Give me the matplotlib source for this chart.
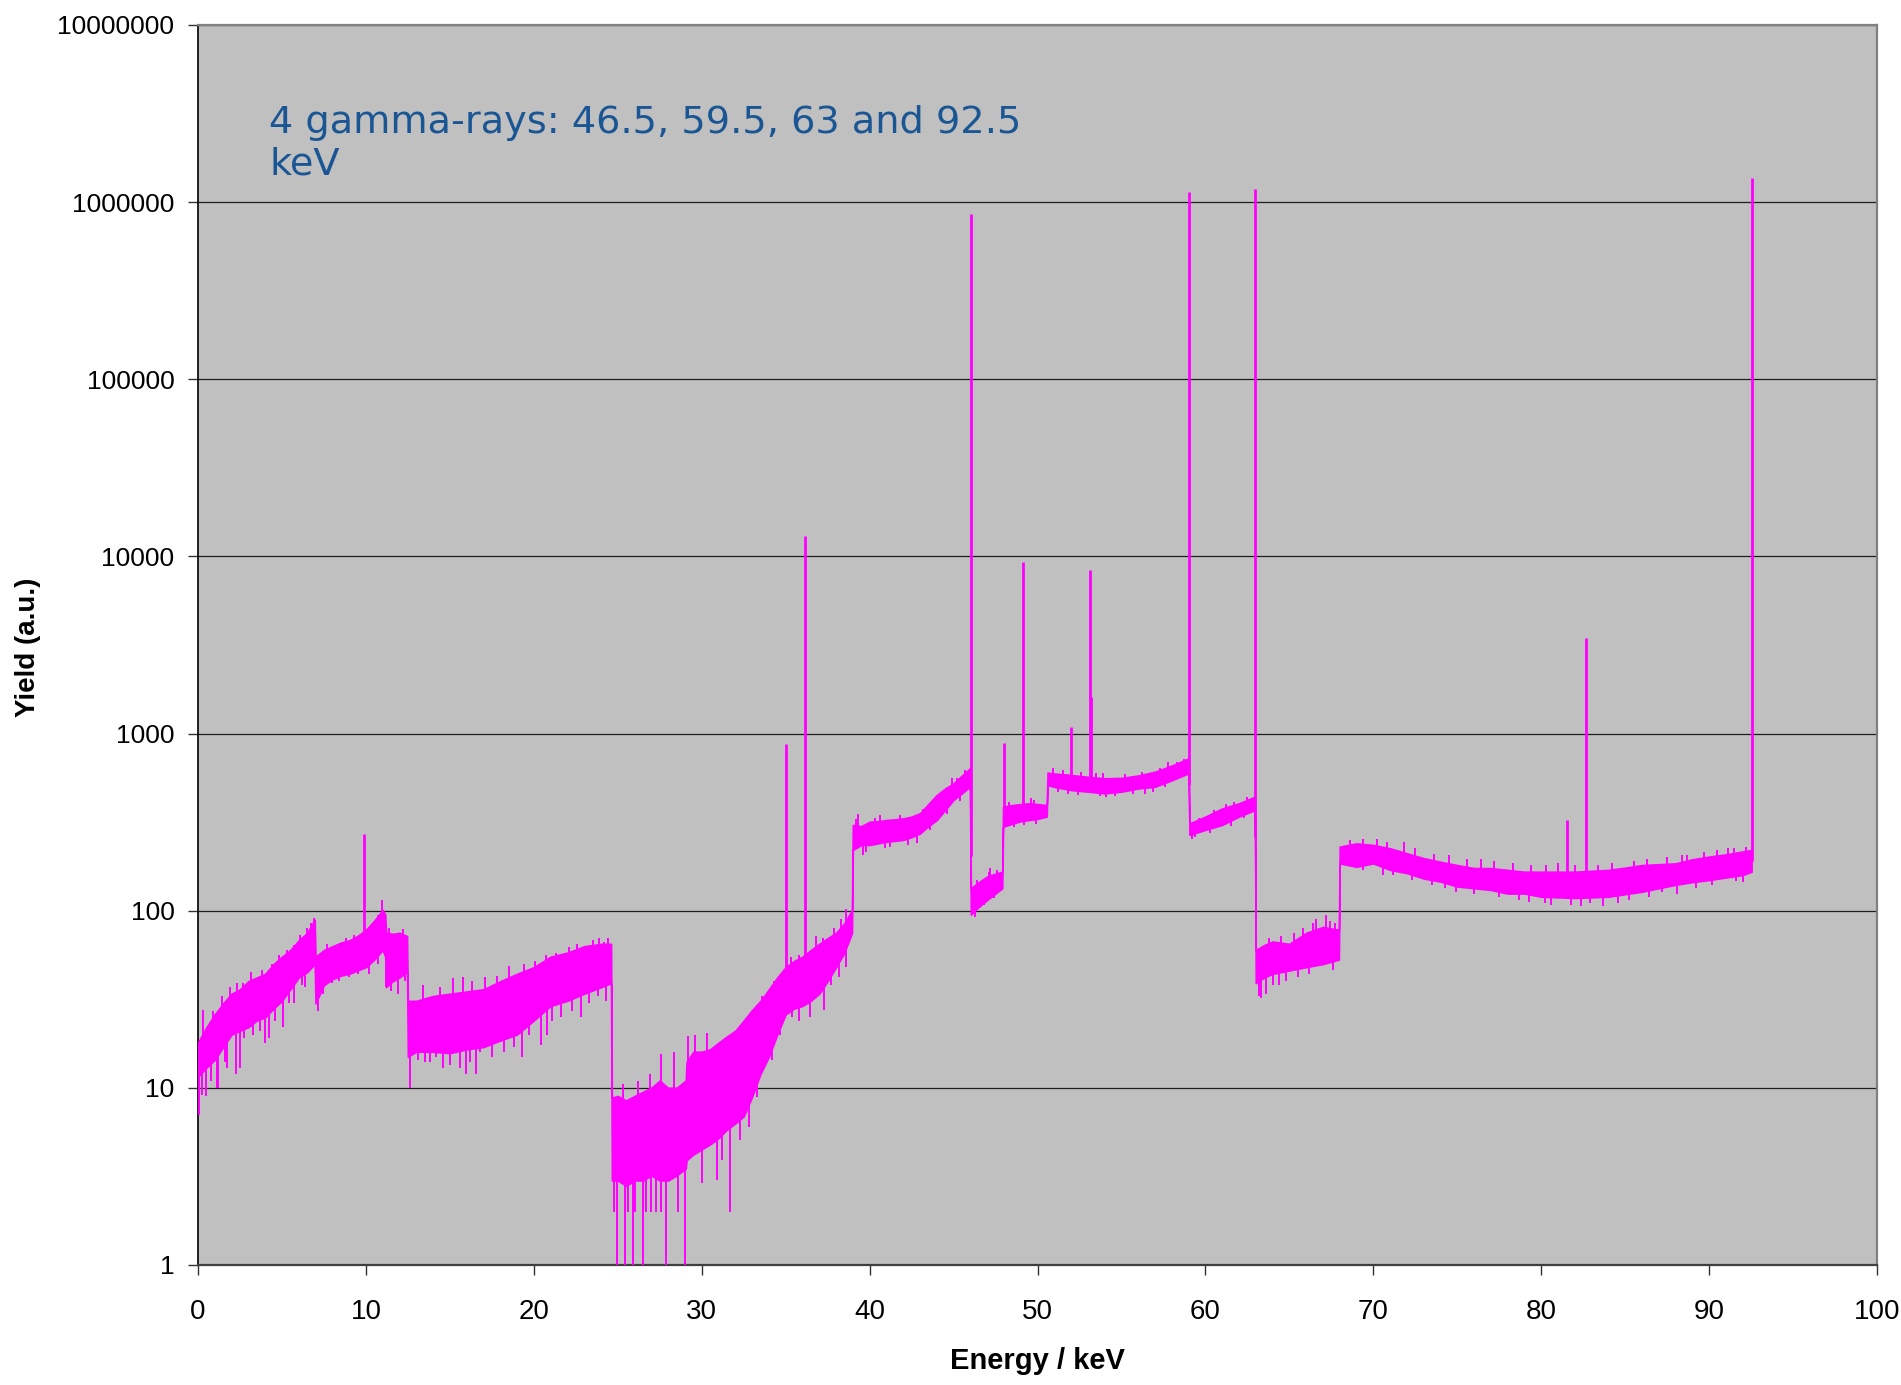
import numpy as np
import matplotlib
matplotlib.use("Agg")
import matplotlib.pyplot as plt
from matplotlib.ticker import FixedLocator, FixedFormatter

# ---- spectrum envelope (energy in keV, yield in a.u.) ----
ENERGY_KEV = [
    0.0, 0.5, 1.0, 1.5, 2.0, 2.5, 3.0, 3.5, 4.0, 4.5, 5.0, 5.5, 6.0, 6.5, 6.95,
    7.0, 7.5, 8.0, 8.5, 9.0, 9.5, 10.0, 10.5, 11.0, 11.15,
    11.2, 11.6, 12.0, 12.45,
    12.5, 13, 14, 15, 16, 17, 18, 19, 20, 21, 22, 23, 24, 24.6,
    24.65, 25, 25.5, 26, 26.5, 27, 27.5, 28, 28.5, 29.05,
    29.1, 29.5, 30, 30.5, 31, 31.5, 32, 32.5, 33, 33.5, 34, 34.5, 35, 35.5,
    36, 36.5, 37, 37.5, 38, 38.5, 38.95,
    39.0, 39.5, 40, 40.5, 41, 41.5, 42, 42.5, 43, 43.5, 44, 44.5, 45, 45.5, 45.98,
    46.03, 46.5, 47, 47.5, 47.9,
    47.95, 48.5, 49, 49.5, 50, 50.55,
    50.6, 51, 52, 53, 54, 55, 56, 57, 58, 59.0,
    59.05, 60, 61, 62, 62.95,
    63.0, 63.5, 64, 65, 66, 67, 67.95,
    68.0, 69, 70, 71, 72, 73, 74, 75, 76, 77, 78, 79, 80, 81, 82, 83, 84,
    85, 86, 87, 88, 89, 90, 91, 92, 92.53,
]
BAND_HIGH = [
    18, 22, 26, 30, 34, 36, 40, 42, 44, 50, 55, 60, 68, 75, 89,
    55, 60, 63, 66, 68, 72, 78, 88, 101, 95,
    75, 74, 75, 72,
    31, 31, 33, 34, 35, 36, 40, 44, 48, 55, 58, 63, 65, 65,
    8.8, 9, 8.5, 9, 9.5, 10, 11, 10, 10, 11,
    14, 16, 16, 16.5, 18, 19.5, 21, 24, 27.5, 31, 36, 42, 48, 52,
    55, 60, 65, 70, 75, 85, 101,
    305, 300, 318, 320, 325, 328, 332, 340, 355, 400, 450, 490, 524, 580, 637,
    134, 145, 156, 162, 166,
    387, 395, 400, 404, 400, 395,
    602, 595, 584, 570, 559, 562, 580, 609, 660, 725,
    311, 340, 378, 404, 440,
    60, 64, 67, 65, 75, 81, 78,
    230, 240, 235, 225, 211, 198, 189, 181, 174, 174, 170, 166, 166, 166, 166,
    168, 170, 175, 181, 183, 185, 195, 202, 208, 216, 220,
]
BAND_LOW = [
    11.6, 13, 14.4, 17, 20, 21, 22, 24, 25, 28, 31, 36, 42, 45, 50,
    30, 38, 41, 43, 44, 46, 48, 53, 60, 55,
    37, 40, 42, 45,
    15, 16, 16, 15.7, 16.5, 17, 18.5, 20, 24, 29, 31, 34, 37, 39,
    3.0, 3.0, 2.8, 3.0, 3.0, 3.2, 3.0, 3.0, 3.2, 3.5,
    3.9, 4.2, 4.5, 4.8, 5.2, 5.8, 6.3, 6.9, 8.9, 12, 15, 20, 26, 28,
    29, 31, 34, 40, 48, 58, 75,
    220, 235, 235, 240, 245, 248, 251, 260, 273, 300, 325, 370, 422, 460, 501,
    95, 105, 115, 125, 134,
    298, 310, 320, 325, 330, 340,
    512, 500, 480, 470, 460, 470, 490, 501, 545, 597,
    268, 286, 305, 340, 370,
    39, 42, 44, 46, 48, 50, 53,
    185, 177, 185, 170, 163, 152, 146, 137, 134, 131, 125, 125, 120, 119, 118,
    119, 120, 124, 128, 134, 140, 145, 149, 154, 159, 166,
]

# ---- single-channel excursions below the band ----
DIP_ENERGY = [
    0.06, 0.24, 0.5, 0.8, 1.11, 1.2, 1.6, 1.75, 2.25, 2.5, 2.75, 3.3, 3.7, 4.0, 4.25,
    4.6, 5.08, 5.4, 5.7, 6.2, 6.4,
    7.13, 7.47, 8.0, 8.4, 9.0, 9.55, 10.2, 10.7,
    11.2, 11.5, 11.93, 12.3,
    12.63, 12.6, 13.1, 13.5, 13.82, 14.2, 14.57, 15.0, 15.58, 15.98, 16.2, 16.56,
    16.8, 17.5, 18.2, 18.8, 19.28, 19.7, 20.4, 20.8, 21.1, 21.6, 22.3, 22.8,
    23.27, 23.8, 24.3,
    24.8, 24.98, 25.44, 25.6, 25.9, 26.04, 26.48, 26.7, 27.0, 27.3, 27.57,
    27.87, 28.6, 29.03,
    30.0, 30.9, 31.2, 31.7, 32.3, 32.8, 33.3, 34.2, 34.66, 35.4, 35.8, 36.45,
    37.3, 37.7, 38.2, 38.6,
    39.6, 39.8, 40.9, 41.2, 42.3, 42.8, 43.6, 44.6, 45.4,
    46.2, 46.3, 46.8, 47.4,
    48.6, 49.2, 49.9,
    51.2, 51.8, 52.4, 53.7, 54.1, 54.6, 55.7, 56.4, 56.9, 57.6, 58.5,
    59.2, 59.4, 60.3, 61.5, 62.3,
    63.2, 63.3, 63.6, 64.0, 64.4, 64.8, 65.5, 66.2, 67.6,
    69.4, 70.6, 71.2, 72.3, 73.5, 74.3, 74.9, 76.0, 77.5, 78.7, 79.3, 80.2,
    80.6, 81.8, 82.4, 82.9, 83.7, 84.6, 85.2, 86.4, 87.2, 88.1, 89.2, 90.2,
    91.6, 92.0,
]
DIP_VALUE = [
    7.0, 9.1, 9.0, 11, 10, 10, 14, 13, 12, 13, 19, 20, 21, 18, 19,
    24, 22, 30, 30, 38, 37,
    27, 34, 39, 40, 42, 44, 44, 50,
    37, 35, 34, 40,
    10, 13.8, 14.3, 14, 14, 15, 13, 13.5, 13, 12, 14, 12,
    16, 15, 16, 17, 14.9, 20, 17.5, 20, 24, 25, 27, 25,
    30, 33, 31,
    2, 1, 1, 2, 1, 2, 1, 2, 2, 2, 2,
    1, 2, 1,
    2.9, 3.0, 3.9, 2, 5.1, 6.0, 8.9, 14.4, 20, 25, 24, 25,
    27.5, 38, 42, 48,
    205, 215, 225, 228, 235, 240, 285, 350, 415,
    96, 92, 108, 118,
    295, 305, 310,
    470, 455, 450, 445, 440, 445, 455, 455, 470, 500, 560,
    255, 260, 275, 300, 335,
    33, 32, 34, 38, 38, 40, 42, 44, 46,
    170, 160, 160, 150, 140, 135, 128, 125, 120, 115, 112, 110,
    108, 108, 106, 110, 107, 110, 115, 120, 127, 125, 135, 140,
    148, 145,
]

# ---- single-channel excursions above the band ----
SPIKE_ENERGY = [
    0.3, 0.9, 1.4, 1.9, 2.3, 2.7, 3.16, 3.8, 4.4, 4.8, 5.3, 5.7, 6.1, 6.5, 6.75, 6.91,
    7.7, 8.8, 9.3, 10.4, 10.7, 10.94, 11.4, 11.85, 12.2,
    13.4, 14.4, 15.2, 15.8, 16.3, 17.1, 17.8, 18.54, 19.4, 20.1, 20.7, 21.3,
    22.1, 22.6, 23.55, 23.9, 24.2, 24.4,
    25.3, 26.2, 26.9, 27.56, 28.35, 29.2, 29.6, 30.3, 31.99, 33.0,
    33.6, 34.3, 35.3, 35.8, 36.8, 37.2, 37.9, 38.3, 38.6,
    39.2, 39.3, 40.3, 40.6, 41.8, 43.2, 43.8, 44.3, 44.9, 45.2, 45.7,
    46.4, 47.1, 47.2, 47.6,
    48.3, 49.6, 49.8,
    50.9, 51.5, 52.6, 53.5, 53.9, 55.2, 56.2, 57.3, 57.8, 58.3, 58.7,
    59.6, 60.5, 61.2, 61.7, 62.5,
    63.8, 64.5, 65.3, 65.8, 66.4, 66.6, 67.2, 67.4, 67.7,
    68.6, 69.4, 70.2, 70.8, 71.8, 72.5, 73.6, 74.5, 75.6, 76.4, 77.2, 78.3,
    79.4, 80.3, 81.0, 82.0, 83.4, 84.2, 85.5, 86.3, 87.5, 88.4, 88.7, 89.7,
    90.5, 91.1, 91.5, 92.2,
]
SPIKE_VALUE = [
    27.5, 27, 33, 37, 39, 39, 45, 46, 50, 56, 60, 64, 73, 80, 85, 91,
    65, 70, 73, 85, 95, 115, 80, 75, 79,
    38, 37, 41.5, 42, 40, 42, 43, 49, 50, 52, 56, 58,
    62, 65, 68, 70, 67, 70,
    10.5, 11, 12, 15.5, 16, 19.5, 20, 20.5, 21, 25,
    33, 40, 55, 56, 72, 70, 80, 90, 102,
    330, 350, 332, 345, 345, 375, 420, 470, 560, 560, 620,
    150, 165, 175, 170,
    410, 430, 420,
    640, 620, 610, 600, 600, 590, 610, 640, 690, 690, 720,
    335, 370, 400, 410, 440,
    70, 72, 75, 80, 85, 90, 95, 88, 85,
    250, 255, 255, 245, 245, 225, 210, 205, 195, 195, 190, 185,
    180, 180, 185, 180, 180, 185, 190, 195, 200, 205, 205, 215,
    220, 225, 225, 230,
]

# ---- gamma and fluorescence lines ----
PEAK_ENERGY = [9.9, 35.05, 36.15, 46.02, 48.0, 49.14, 52.0, 53.1, 53.2,
               59.02, 62.97, 81.53, 82.64, 92.55]
PEAK_YIELD = [270, 870, 13000, 855000, 890, 9300, 1090, 8400, 1600,
              1137000, 1190000, 325, 3475, 1360000]

Y_TICKS = [1, 10, 100, 1000, 10000, 100000, 1000000, 10000000]
Y_TICK_LABELS = ["1", "10", "100", "1000", "10000", "100000", "1000000", "10000000"]
X_TICKS = [0, 10, 20, 30, 40, 50, 60, 70, 80, 90, 100]

NOTE = "4 gamma-rays: 46.5, 59.5, 63 and 92.5\nkeV"

MAGENTA = "#FF00FF"
W, H = 1901, 1385

fig = plt.figure(figsize=(W / 100, H / 100), dpi=100)
ax = fig.add_axes([198 / W, 1 - 1265 / H, (1877 - 198) / W, (1265 - 25) / H])
ax.set_facecolor("#C0C0C0")
ax.set_yscale("log")
ax.set_xlim(0, 100)
ax.set_ylim(1, 1e7)

e = np.asarray(ENERGY_KEV, float)
hi = np.asarray(BAND_HIGH, float)
lo = np.asarray(BAND_LOW, float)

ax.yaxis.grid(True, color="#1e1e1e", linewidth=0.9, zorder=1)
ax.set_axisbelow(True)

ax.fill_between(e, lo, hi, facecolor=MAGENTA, edgecolor=MAGENTA, linewidth=1.2, zorder=3)

# anchor each excursion inside the band at its energy
def band_mid(x):
    return np.sqrt(np.interp(x, e, lo) * np.interp(x, e, hi))

dx = np.asarray(DIP_ENERGY, float)
ax.vlines(dx, np.asarray(DIP_VALUE, float), band_mid(dx), color=MAGENTA, linewidth=1.4, zorder=3)
sx = np.asarray(SPIKE_ENERGY, float)
ax.vlines(sx, band_mid(sx), np.asarray(SPIKE_VALUE, float), color=MAGENTA, linewidth=1.4, zorder=3)
px = np.asarray(PEAK_ENERGY, float)
ax.vlines(px, band_mid(px), np.asarray(PEAK_YIELD, float), color=MAGENTA, linewidth=2.0, zorder=4)

# axes styling
for side in ("top", "right"):
    ax.spines[side].set_color("#808080")
    ax.spines[side].set_linewidth(1.6)
ax.spines["left"].set_color("#111111")
ax.spines["left"].set_linewidth(1.3)
ax.spines["bottom"].set_color("#404040")
ax.spines["bottom"].set_linewidth(1.6)

ax.yaxis.set_major_locator(FixedLocator(Y_TICKS))
ax.yaxis.set_major_formatter(FixedFormatter(Y_TICK_LABELS))
ax.yaxis.set_minor_locator(FixedLocator([]))
ax.set_xticks(X_TICKS)
ax.set_xticklabels([str(t) for t in X_TICKS])

ax.tick_params(axis="y", direction="out", length=7, width=1, color="#333333", pad=10,
               labelsize=19, labelcolor="black")
ax.tick_params(axis="x", direction="out", length=7.5, width=1, color="#333333", pad=17,
               labelsize=20, labelcolor="black")
for lab in ax.get_yticklabels():
    lab.set_family(["Liberation Sans", "DejaVu Sans"])
for lab in ax.get_xticklabels():
    lab.set_family(["Liberation Sans Narrow", "Liberation Sans", "DejaVu Sans"])

ax.set_xlabel("Energy / keV", fontsize=21, fontweight="bold",
              family=["Liberation Sans Narrow", "Liberation Sans", "DejaVu Sans"])
ax.xaxis.set_label_coords(0.5, -0.0774)
ax.xaxis.label.set_va("center")
ax.set_ylabel("Yield (a.u.)", fontsize=20, fontweight="bold",
              family=["Liberation Sans", "DejaVu Sans"])
ax.yaxis.set_label_coords((28 - 198) / (1877 - 198), 0.498)
ax.yaxis.label.set_va("center")

ax.text(269 / W, 1 - 105 / H, NOTE, transform=fig.transFigure, fontsize=27.5,
        color="#1a5694", family="DejaVu Sans", va="top", ha="left", linespacing=1.2)

fig.savefig("out.png", dpi=100)
